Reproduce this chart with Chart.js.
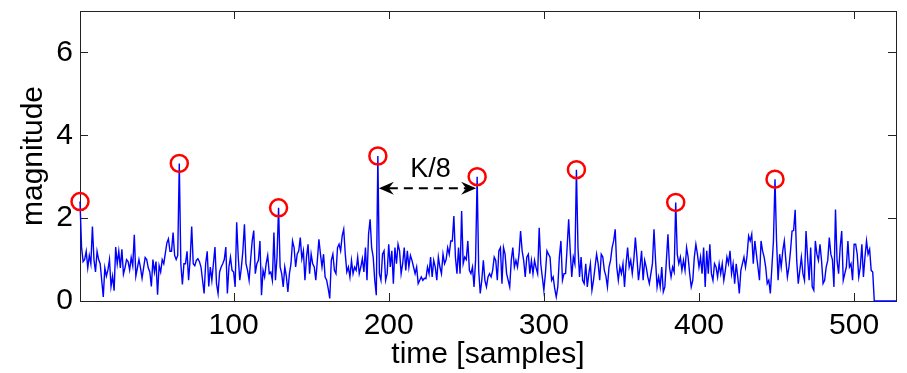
<!DOCTYPE html>
<html>
<head>
<meta charset="utf-8">
<script src="https://cdn.jsdelivr.net/npm/chart.js@4.4.1/dist/chart.umd.min.js"></script>
<style>
html,body{margin:0;padding:0;background:#fff;}
</style>
</head>
<body>
<canvas id="myChart" width="907" height="373"></canvas>
<script>
// magnitude of each sample, time = 1..527 (zero padded after 512)
const magnitude=[
    2.4,1.3,0.95,1.0,1.2,0.8,1.1,0.9,1.8,1.0,0.7,1.2,1.0,0.9,0.5,0.1,
    0.8,0.6,0.75,1.0,0.35,0.6,0.25,1.3,0.9,1.2,0.8,1.25,0.65,0.8,1.0,0.95,
    0.75,1.05,0.85,1.6,0.6,0.8,1.0,0.8,0.55,0.8,1.05,1.0,0.8,0.7,0.35,1.0,
    0.7,0.95,0.15,0.85,0.7,1.0,0.9,1.15,1.4,1.5,1.2,1.2,1.65,1.1,1.0,1.1,
    3.32,0.9,0.4,0.9,0.9,1.2,0.5,1.0,1.8,0.9,0.85,0.98,1.02,0.95,0.82,0.5,
    0.18,0.9,1.2,0.35,0.82,0.5,0.9,1.3,0.42,0.18,0.7,0.82,0.9,1.0,1.3,0.18,
    0.82,1.06,0.74,0.7,0.34,1.9,1.06,0.5,0.8,1.21,1.85,0.9,0.74,0.5,1.0,1.45,
    1.7,0.66,0.9,0.98,1.45,0.14,0.74,0.58,0.9,1.1,0.66,0.7,0.5,1.65,0.5,1.06,
    2.25,0.82,0.66,0.34,0.82,0.6,0.22,0.66,0.9,1.45,1.29,0.82,1.13,1.21,1.53,1.02,
    1.21,0.5,1.06,1.37,0.66,1.13,0.9,0.82,0.5,0.98,1.49,1.13,0.82,1.13,0.58,0.5,
    0.3,0.06,0.98,1.13,0.74,0.66,1.29,1.37,1.21,1.57,1.73,1.13,0.7,0.82,0.58,0.98,
    0.66,0.82,0.74,1.06,0.66,0.82,1.02,0.7,1.29,0.5,1.61,1.97,1.29,1.06,0.5,0.14,
    3.5,0.66,0.5,1.13,1.21,0.5,0.66,1.37,0.82,1.21,0.42,1.29,0.9,1.37,1.21,0.66,
    0.9,1.29,0.74,1.21,0.82,1.1,0.98,0.82,0.66,0.82,0.42,0.5,0.58,0.5,0.55,0.54,
    0.82,0.66,1.06,0.58,0.98,0.82,0.5,1.06,0.82,0.66,1.13,0.9,1.0,1.29,1.13,1.45,
    1.45,2.05,1.06,0.66,1.29,0.66,2.17,0.9,1.06,1.0,1.45,0.74,0.66,0.82,0.34,0.98,
    3.0,0.74,0.18,0.5,0.98,0.5,0.34,0.58,0.66,0.58,0.74,1.06,0.98,0.5,1.21,1.29,
    0.42,1.29,1.13,0.66,0.5,0.34,0.98,1.29,0.82,0.98,0.82,1.13,1.69,1.21,0.98,0.58,
    1.06,1.13,0.66,0.98,0.66,0.98,0.8,0.66,1.77,0.9,0.58,0.26,0.66,1.21,1.13,1.06,
    0.5,0.58,0.3,0.1,0.34,1.06,1.45,0.5,0.66,0.66,1.29,1.97,1.21,0.58,1.06,0.9,
    3.17,1.29,0.58,1.06,0.5,0.42,0.9,0.34,0.66,0.9,0.26,0.5,0.82,1.13,0.9,0.5,
    1.13,1.06,0.74,0.6,0.34,0.82,0.98,1.29,1.45,1.73,0.82,0.5,0.82,0.66,0.9,0.34,
    0.9,1.29,0.82,0.98,0.66,1.0,1.53,1.06,0.5,0.82,1.21,0.5,0.98,0.82,0.58,0.42,
    0.66,0.9,1.73,0.98,0.34,0.58,0.34,0.82,0.22,0.34,0.98,1.61,0.82,0.58,0.82,0.7,
    2.38,1.13,0.9,1.06,0.74,0.98,0.74,1.29,1.06,0.66,0.34,0.5,1.06,1.37,1.13,0.82,
    1.06,0.66,1.29,0.34,1.21,0.66,1.37,0.66,0.5,0.9,0.82,0.58,0.9,0.66,0.9,0.5,
    0.74,1.06,0.9,1.21,0.66,0.9,0.42,0.9,0.58,0.18,0.74,0.9,1.06,0.82,1.1,1.57,
    1.45,1.61,0.9,1.45,1.13,0.82,0.5,1.45,1.21,1.06,0.82,0.42,0.5,0.18,0.82,1.45,
    2.94,1.45,0.5,1.13,0.82,1.21,1.45,0.98,0.58,0.82,1.21,1.69,1.7,2.2,0.98,0.42,
    0.74,1.06,0.66,0.5,1.69,1.06,0.5,1.29,0.34,0.26,1.45,1.13,0.98,1.37,0.98,0.42,
    0.5,0.82,0.98,1.53,1.13,1.0,0.34,2.21,0.98,0.66,1.29,1.69,0.5,0.66,0.82,1.45,
    0.82,0.9,0.5,1.37,1.37,1.13,0.58,0.82,1.37,0.58,1.06,1.45,1.13,1.25,0.74,0.7,
    0,0,0,0,0,0,0,0,0,0,0,0,0,0,0
];

const peakTimes=[1,65,129,193,257,321,385,449];
const peakValues=[2.4,3.32,2.25,3.5,3.0,3.17,2.38,2.94];

const xTicks=[100,200,300,400,500];
const yTicks=[0,2,4,6];

// the K/8 spacing arrow
const arrowFrom=193, arrowTo=257, arrowLevel=2.72, labelLevel=3.17;
const arrowLabel='K/8';

const FONT="'Liberation Sans', Arial, Helvetica, sans-serif";

// matlab like box with inward ticks
const frame={
    id:'frame',
    beforeDatasetsDraw(chart){
        const {ctx,chartArea:a,scales:{x,y}}=chart;
        ctx.save();
        ctx.strokeStyle='#222';
        ctx.lineWidth=1;
        ctx.strokeRect(a.left+0.5,a.top+0.5,a.right-a.left,a.bottom-a.top);
        ctx.beginPath();
        xTicks.forEach(v=>{
            const px=Math.round(x.getPixelForValue(v))+0.5;
            ctx.moveTo(px,a.bottom); ctx.lineTo(px,a.bottom-8);
            ctx.moveTo(px,a.top); ctx.lineTo(px,a.top+8);
        });
        yTicks.forEach(v=>{
            const py=Math.round(y.getPixelForValue(v))+0.5;
            ctx.moveTo(a.left,py); ctx.lineTo(a.left+8,py);
            ctx.moveTo(a.right,py); ctx.lineTo(a.right-8,py);
        });
        ctx.stroke();
        ctx.restore();
    }
};

const spacing={
    id:'spacing',
    afterDatasetsDraw(chart){
        const {ctx,scales:{x,y}}=chart;
        const x1=x.getPixelForValue(arrowFrom)+1;
        const x2=x.getPixelForValue(arrowTo)-1;
        const yy=y.getPixelForValue(arrowLevel);
        ctx.save();
        ctx.strokeStyle='#000';
        ctx.fillStyle='#000';
        ctx.lineWidth=2;
        ctx.setLineDash([9,6]);
        ctx.beginPath();
        ctx.moveTo(x1+10,yy); ctx.lineTo(x2-10,yy);
        ctx.stroke();
        ctx.setLineDash([]);
        // arrow heads
        ctx.beginPath();
        ctx.moveTo(x1,yy); ctx.lineTo(x1+15,yy-6.5); ctx.lineTo(x1+10,yy); ctx.lineTo(x1+15,yy+6.5); ctx.closePath();
        ctx.moveTo(x2,yy); ctx.lineTo(x2-15,yy-6.5); ctx.lineTo(x2-10,yy); ctx.lineTo(x2-15,yy+6.5); ctx.closePath();
        ctx.fill();
        ctx.font='27px '+FONT;
        ctx.textAlign='center';
        ctx.textBaseline='middle';
        ctx.fillText(arrowLabel,x.getPixelForValue((arrowFrom+arrowTo)/2)+3,y.getPixelForValue(labelLevel));
        ctx.restore();
    }
};

const data={
    datasets:[{
        label:'peaks',
        data:peakTimes.map((t,i)=>({x:t,y:peakValues[i]})),
        showLine:false,
        pointRadius:8.5,
        pointBorderWidth:2.5,
        pointBorderColor:'#ff0000',
        pointBackgroundColor:'rgba(0,0,0,0)',
        clip:false,
        order:0
    },{
        label:'magnitude',
        data:magnitude.map((v,i)=>({x:i+1,y:v})),
        borderColor:'#0000ff',
        borderWidth:1.4,
        pointRadius:0,
        tension:0,
        clip:4,
        order:1
    }]
};

const config={
    type:'line',
    data,
    options:{
        responsive:false,
        animation:false,
        layout:{padding:{top:7,right:10,left:0,bottom:0}},
        plugins:{legend:{display:false},tooltip:{enabled:false}},
        scales:{
            x:{
                type:'linear',
                min:1,
                max:527,
                afterBuildTicks:s=>{s.ticks=xTicks.map(v=>({value:v}));},
                afterFit:s=>{s.height=72;},
                grid:{display:false,drawTicks:false},
                border:{display:false},
                ticks:{padding:7,color:'#000',maxRotation:0,font:{family:FONT,size:30}},
                title:{display:true,text:'time [samples]',color:'#000',font:{family:FONT,size:30},padding:{top:0,bottom:0}}
            },
            y:{
                min:0,
                max:7,
                afterBuildTicks:s=>{s.ticks=yTicks.map(v=>({value:v}));},
                afterFit:s=>{s.width=80;s.paddingTop=0;s.paddingBottom=0;},
                grid:{display:false,drawTicks:false},
                border:{display:false},
                ticks:{padding:7,color:'#000',font:{family:FONT,size:30}},
                title:{display:true,text:'magnitude',color:'#000',font:{family:FONT,size:30},padding:{top:16,bottom:0}}
            }
        }
    },
    plugins:[frame,spacing]
};

const myChart=new Chart(document.getElementById('myChart'),config);
</script>
</body>
</html>
